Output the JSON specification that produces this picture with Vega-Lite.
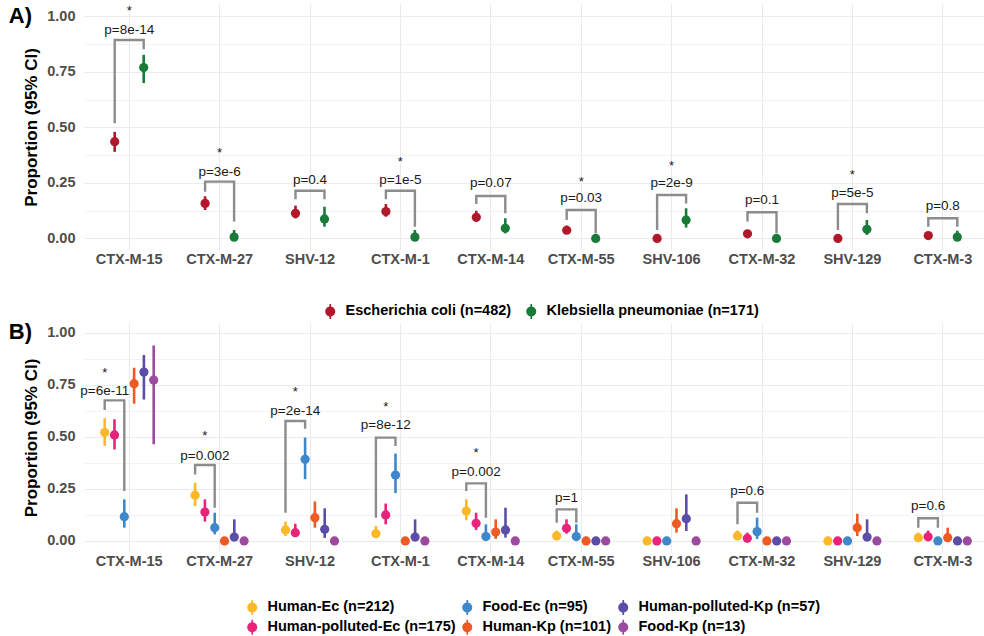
{
  "$schema": "https://vega.github.io/schema/vega-lite/v6.json",
  "background": "white",
  "padding": {"left": 8, "top": 4, "right": 0, "bottom": 0},
  "spacing": 2,
  "config": {
    "view": {"stroke": null},
    "font": "Liberation Sans",
    "axis": {
      "domain": false,
      "ticks": false,
      "gridColor": "#ebebeb",
      "labelFont": "Liberation Sans",
      "labelFontSize": 14.5,
      "labelFontWeight": "bold",
      "labelColor": "#4d4d4d",
      "titleFont": "Liberation Sans",
      "titleFontSize": 17,
      "titleFontWeight": "bold",
      "titleColor": "#000000"
    },
    "legend": {
      "title": null,
      "orient": "none",
      "symbolType": "M-1,0A1,1,0,1,1,1,0A1,1,0,1,1,-1,0Z M-0.17,-1.5H0.17V1.5H-0.17Z",
      "symbolSize": 100,
      "symbolStrokeWidth": 0,
      "symbolOpacity": 1,
      "labelFont": "Liberation Sans",
      "labelFontSize": 14.5,
      "labelFontWeight": "bold",
      "labelColor": "#000000",
      "labelLimit": 0,
      "labelOffset": 8,
      "rowPadding": 4
    },
    "text": {"font": "Liberation Sans", "fontSize": 13.5, "color": "#1a1a1a"},
    "title": {"font": "Liberation Sans", "fontSize": 22, "fontWeight": "bold", "color": "#000000", "anchor": "start", "frame": "bounds"}
  },
  "resolve": {"scale": {"color": "independent", "x": "independent", "xOffset": "independent", "y": "independent"}, "legend": {"color": "independent"}},
  "datasets": {
    "propA": [
      {"gene": "CTX-M-15", "group": "Escherichia coli (n=482)", "p": 0.436, "lo": 0.39, "hi": 0.48},
      {"gene": "CTX-M-15", "group": "Klebsiella pneumoniae (n=171)", "p": 0.77, "lo": 0.70, "hi": 0.827},
      {"gene": "CTX-M-27", "group": "Escherichia coli (n=482)", "p": 0.158, "lo": 0.128, "hi": 0.19},
      {"gene": "CTX-M-27", "group": "Klebsiella pneumoniae (n=171)", "p": 0.006, "lo": 0.0, "hi": 0.038},
      {"gene": "SHV-12", "group": "Escherichia coli (n=482)", "p": 0.113, "lo": 0.09, "hi": 0.148},
      {"gene": "SHV-12", "group": "Klebsiella pneumoniae (n=171)", "p": 0.088, "lo": 0.053, "hi": 0.143},
      {"gene": "CTX-M-1", "group": "Escherichia coli (n=482)", "p": 0.121, "lo": 0.098, "hi": 0.155},
      {"gene": "CTX-M-1", "group": "Klebsiella pneumoniae (n=171)", "p": 0.006, "lo": 0.0, "hi": 0.038},
      {"gene": "CTX-M-14", "group": "Escherichia coli (n=482)", "p": 0.095, "lo": 0.076, "hi": 0.125},
      {"gene": "CTX-M-14", "group": "Klebsiella pneumoniae (n=171)", "p": 0.046, "lo": 0.023, "hi": 0.091},
      {"gene": "CTX-M-55", "group": "Escherichia coli (n=482)", "p": 0.037, "lo": 0.025, "hi": 0.058},
      {"gene": "CTX-M-55", "group": "Klebsiella pneumoniae (n=171)", "p": 0.0, "lo": 0.0, "hi": 0.02},
      {"gene": "SHV-106", "group": "Escherichia coli (n=482)", "p": 0.0, "lo": 0.0, "hi": 0.008},
      {"gene": "SHV-106", "group": "Klebsiella pneumoniae (n=171)", "p": 0.083, "lo": 0.049, "hi": 0.136},
      {"gene": "CTX-M-32", "group": "Escherichia coli (n=482)", "p": 0.021, "lo": 0.011, "hi": 0.035},
      {"gene": "CTX-M-32", "group": "Klebsiella pneumoniae (n=171)", "p": 0.0, "lo": 0.0, "hi": 0.02},
      {"gene": "SHV-129", "group": "Escherichia coli (n=482)", "p": 0.0, "lo": 0.0, "hi": 0.008},
      {"gene": "SHV-129", "group": "Klebsiella pneumoniae (n=171)", "p": 0.041, "lo": 0.016, "hi": 0.083},
      {"gene": "CTX-M-3", "group": "Escherichia coli (n=482)", "p": 0.013, "lo": 0.005, "hi": 0.027},
      {"gene": "CTX-M-3", "group": "Klebsiella pneumoniae (n=171)", "p": 0.006, "lo": 0.0, "hi": 0.035}
    ],
    "bracketA": [
      {"gene": "CTX-M-15", "group": "Escherichia coli (n=482)", "y": 0.519, "step": 1},
      {"gene": "CTX-M-15", "group": "Escherichia coli (n=482)", "y": 0.894, "step": 2},
      {"gene": "CTX-M-15", "group": "Klebsiella pneumoniae (n=171)", "y": 0.894, "step": 3},
      {"gene": "CTX-M-15", "group": "Klebsiella pneumoniae (n=171)", "y": 0.852, "step": 4},
      {"gene": "CTX-M-27", "group": "Escherichia coli (n=482)", "y": 0.21, "step": 1},
      {"gene": "CTX-M-27", "group": "Escherichia coli (n=482)", "y": 0.256, "step": 2},
      {"gene": "CTX-M-27", "group": "Klebsiella pneumoniae (n=171)", "y": 0.256, "step": 3},
      {"gene": "CTX-M-27", "group": "Klebsiella pneumoniae (n=171)", "y": 0.076, "step": 4},
      {"gene": "SHV-12", "group": "Escherichia coli (n=482)", "y": 0.177, "step": 1},
      {"gene": "SHV-12", "group": "Escherichia coli (n=482)", "y": 0.215, "step": 2},
      {"gene": "SHV-12", "group": "Klebsiella pneumoniae (n=171)", "y": 0.215, "step": 3},
      {"gene": "SHV-12", "group": "Klebsiella pneumoniae (n=171)", "y": 0.177, "step": 4},
      {"gene": "CTX-M-1", "group": "Escherichia coli (n=482)", "y": 0.177, "step": 1},
      {"gene": "CTX-M-1", "group": "Escherichia coli (n=482)", "y": 0.215, "step": 2},
      {"gene": "CTX-M-1", "group": "Klebsiella pneumoniae (n=171)", "y": 0.215, "step": 3},
      {"gene": "CTX-M-1", "group": "Klebsiella pneumoniae (n=171)", "y": 0.053, "step": 4},
      {"gene": "CTX-M-14", "group": "Escherichia coli (n=482)", "y": 0.155, "step": 1},
      {"gene": "CTX-M-14", "group": "Escherichia coli (n=482)", "y": 0.191, "step": 2},
      {"gene": "CTX-M-14", "group": "Klebsiella pneumoniae (n=171)", "y": 0.191, "step": 3},
      {"gene": "CTX-M-14", "group": "Klebsiella pneumoniae (n=171)", "y": 0.113, "step": 4},
      {"gene": "CTX-M-55", "group": "Escherichia coli (n=482)", "y": 0.083, "step": 1},
      {"gene": "CTX-M-55", "group": "Escherichia coli (n=482)", "y": 0.128, "step": 2},
      {"gene": "CTX-M-55", "group": "Klebsiella pneumoniae (n=171)", "y": 0.128, "step": 3},
      {"gene": "CTX-M-55", "group": "Klebsiella pneumoniae (n=171)", "y": 0.023, "step": 4},
      {"gene": "SHV-106", "group": "Escherichia coli (n=482)", "y": 0.038, "step": 1},
      {"gene": "SHV-106", "group": "Escherichia coli (n=482)", "y": 0.196, "step": 2},
      {"gene": "SHV-106", "group": "Klebsiella pneumoniae (n=171)", "y": 0.196, "step": 3},
      {"gene": "SHV-106", "group": "Klebsiella pneumoniae (n=171)", "y": 0.158, "step": 4},
      {"gene": "CTX-M-32", "group": "Escherichia coli (n=482)", "y": 0.076, "step": 1},
      {"gene": "CTX-M-32", "group": "Escherichia coli (n=482)", "y": 0.118, "step": 2},
      {"gene": "CTX-M-32", "group": "Klebsiella pneumoniae (n=171)", "y": 0.118, "step": 3},
      {"gene": "CTX-M-32", "group": "Klebsiella pneumoniae (n=171)", "y": 0.023, "step": 4},
      {"gene": "SHV-129", "group": "Escherichia coli (n=482)", "y": 0.038, "step": 1},
      {"gene": "SHV-129", "group": "Escherichia coli (n=482)", "y": 0.155, "step": 2},
      {"gene": "SHV-129", "group": "Klebsiella pneumoniae (n=171)", "y": 0.155, "step": 3},
      {"gene": "SHV-129", "group": "Klebsiella pneumoniae (n=171)", "y": 0.113, "step": 4},
      {"gene": "CTX-M-3", "group": "Escherichia coli (n=482)", "y": 0.053, "step": 1},
      {"gene": "CTX-M-3", "group": "Escherichia coli (n=482)", "y": 0.091, "step": 2},
      {"gene": "CTX-M-3", "group": "Klebsiella pneumoniae (n=171)", "y": 0.091, "step": 3},
      {"gene": "CTX-M-3", "group": "Klebsiella pneumoniae (n=171)", "y": 0.053, "step": 4}
    ],
    "testA": [
      {"gene": "CTX-M-15", "label": "p=8e-14", "label_y": 0.94, "sig": true, "star_y": 1.04},
      {"gene": "CTX-M-27", "label": "p=3e-6", "label_y": 0.30, "sig": true, "star_y": 0.40},
      {"gene": "SHV-12", "label": "p=0.4", "label_y": 0.263, "sig": false, "star_y": 0},
      {"gene": "CTX-M-1", "label": "p=1e-5", "label_y": 0.263, "sig": true, "star_y": 0.36},
      {"gene": "CTX-M-14", "label": "p=0.07", "label_y": 0.25, "sig": false, "star_y": 0},
      {"gene": "CTX-M-55", "label": "p=0.03", "label_y": 0.18, "sig": true, "star_y": 0.27},
      {"gene": "SHV-106", "label": "p=2e-9", "label_y": 0.249, "sig": true, "star_y": 0.34},
      {"gene": "CTX-M-32", "label": "p=0.1", "label_y": 0.173, "sig": false, "star_y": 0},
      {"gene": "SHV-129", "label": "p=5e-5", "label_y": 0.206, "sig": true, "star_y": 0.30},
      {"gene": "CTX-M-3", "label": "p=0.8", "label_y": 0.146, "sig": false, "star_y": 0}
    ],
    "propB": [
      {"gene": "CTX-M-15", "group": "Human-Ec (n=212)", "p": 0.521, "lo": 0.457, "hi": 0.59},
      {"gene": "CTX-M-15", "group": "Human-polluted-Ec (n=175)", "p": 0.51, "lo": 0.44, "hi": 0.585},
      {"gene": "CTX-M-15", "group": "Food-Ec (n=95)", "p": 0.117, "lo": 0.064, "hi": 0.2},
      {"gene": "CTX-M-15", "group": "Human-Kp (n=101)", "p": 0.756, "lo": 0.66, "hi": 0.833},
      {"gene": "CTX-M-15", "group": "Human-polluted-Kp (n=57)", "p": 0.812, "lo": 0.68, "hi": 0.894},
      {"gene": "CTX-M-15", "group": "Food-Kp (n=13)", "p": 0.774, "lo": 0.465, "hi": 0.94},
      {"gene": "CTX-M-27", "group": "Human-Ec (n=212)", "p": 0.22, "lo": 0.168, "hi": 0.28},
      {"gene": "CTX-M-27", "group": "Human-polluted-Ec (n=175)", "p": 0.139, "lo": 0.093, "hi": 0.2},
      {"gene": "CTX-M-27", "group": "Food-Ec (n=95)", "p": 0.064, "lo": 0.032, "hi": 0.136},
      {"gene": "CTX-M-27", "group": "Human-Kp (n=101)", "p": 0.0, "lo": 0.0, "hi": 0.0},
      {"gene": "CTX-M-27", "group": "Human-polluted-Kp (n=57)", "p": 0.019, "lo": 0.0, "hi": 0.104},
      {"gene": "CTX-M-27", "group": "Food-Kp (n=13)", "p": 0.0, "lo": 0.0, "hi": 0.0},
      {"gene": "SHV-12", "group": "Human-Ec (n=212)", "p": 0.053, "lo": 0.024, "hi": 0.093},
      {"gene": "SHV-12", "group": "Human-polluted-Ec (n=175)", "p": 0.04, "lo": 0.02, "hi": 0.083},
      {"gene": "SHV-12", "group": "Food-Ec (n=95)", "p": 0.393, "lo": 0.297, "hi": 0.497},
      {"gene": "SHV-12", "group": "Human-Kp (n=101)", "p": 0.112, "lo": 0.064, "hi": 0.19},
      {"gene": "SHV-12", "group": "Human-polluted-Kp (n=57)", "p": 0.056, "lo": 0.015, "hi": 0.157},
      {"gene": "SHV-12", "group": "Food-Kp (n=13)", "p": 0.0, "lo": 0.0, "hi": 0.0},
      {"gene": "CTX-M-1", "group": "Human-Ec (n=212)", "p": 0.035, "lo": 0.015, "hi": 0.072},
      {"gene": "CTX-M-1", "group": "Human-polluted-Ec (n=175)", "p": 0.125, "lo": 0.08, "hi": 0.18},
      {"gene": "CTX-M-1", "group": "Food-Ec (n=95)", "p": 0.317, "lo": 0.23, "hi": 0.42},
      {"gene": "CTX-M-1", "group": "Human-Kp (n=101)", "p": 0.0, "lo": 0.0, "hi": 0.0},
      {"gene": "CTX-M-1", "group": "Human-polluted-Kp (n=57)", "p": 0.019, "lo": 0.0, "hi": 0.104},
      {"gene": "CTX-M-1", "group": "Food-Kp (n=13)", "p": 0.0, "lo": 0.0, "hi": 0.0},
      {"gene": "CTX-M-14", "group": "Human-Ec (n=212)", "p": 0.144, "lo": 0.1, "hi": 0.2},
      {"gene": "CTX-M-14", "group": "Human-polluted-Ec (n=175)", "p": 0.085, "lo": 0.053, "hi": 0.136},
      {"gene": "CTX-M-14", "group": "Food-Ec (n=95)", "p": 0.021, "lo": 0.005, "hi": 0.08},
      {"gene": "CTX-M-14", "group": "Human-Kp (n=101)", "p": 0.043, "lo": 0.01, "hi": 0.104},
      {"gene": "CTX-M-14", "group": "Human-polluted-Kp (n=57)", "p": 0.053, "lo": 0.016, "hi": 0.16},
      {"gene": "CTX-M-14", "group": "Food-Kp (n=13)", "p": 0.0, "lo": 0.0, "hi": 0.0},
      {"gene": "CTX-M-55", "group": "Human-Ec (n=212)", "p": 0.024, "lo": 0.01, "hi": 0.05},
      {"gene": "CTX-M-55", "group": "Human-polluted-Ec (n=175)", "p": 0.061, "lo": 0.035, "hi": 0.104},
      {"gene": "CTX-M-55", "group": "Food-Ec (n=95)", "p": 0.021, "lo": 0.005, "hi": 0.08},
      {"gene": "CTX-M-55", "group": "Human-Kp (n=101)", "p": 0.0, "lo": 0.0, "hi": 0.0},
      {"gene": "CTX-M-55", "group": "Human-polluted-Kp (n=57)", "p": 0.0, "lo": 0.0, "hi": 0.0},
      {"gene": "CTX-M-55", "group": "Food-Kp (n=13)", "p": 0.0, "lo": 0.0, "hi": 0.0},
      {"gene": "SHV-106", "group": "Human-Ec (n=212)", "p": 0.0, "lo": 0.0, "hi": 0.0},
      {"gene": "SHV-106", "group": "Human-polluted-Ec (n=175)", "p": 0.0, "lo": 0.0, "hi": 0.0},
      {"gene": "SHV-106", "group": "Food-Ec (n=95)", "p": 0.0, "lo": 0.0, "hi": 0.0},
      {"gene": "SHV-106", "group": "Human-Kp (n=101)", "p": 0.083, "lo": 0.04, "hi": 0.157},
      {"gene": "SHV-106", "group": "Human-polluted-Kp (n=57)", "p": 0.107, "lo": 0.048, "hi": 0.224},
      {"gene": "SHV-106", "group": "Food-Kp (n=13)", "p": 0.0, "lo": 0.0, "hi": 0.0},
      {"gene": "CTX-M-32", "group": "Human-Ec (n=212)", "p": 0.024, "lo": 0.01, "hi": 0.05},
      {"gene": "CTX-M-32", "group": "Human-polluted-Ec (n=175)", "p": 0.013, "lo": 0.005, "hi": 0.04},
      {"gene": "CTX-M-32", "group": "Food-Ec (n=95)", "p": 0.045, "lo": 0.01, "hi": 0.112},
      {"gene": "CTX-M-32", "group": "Human-Kp (n=101)", "p": 0.0, "lo": 0.0, "hi": 0.0},
      {"gene": "CTX-M-32", "group": "Human-polluted-Kp (n=57)", "p": 0.0, "lo": 0.0, "hi": 0.0},
      {"gene": "CTX-M-32", "group": "Food-Kp (n=13)", "p": 0.0, "lo": 0.0, "hi": 0.0},
      {"gene": "SHV-129", "group": "Human-Ec (n=212)", "p": 0.0, "lo": 0.0, "hi": 0.0},
      {"gene": "SHV-129", "group": "Human-polluted-Ec (n=175)", "p": 0.0, "lo": 0.0, "hi": 0.0},
      {"gene": "SHV-129", "group": "Food-Ec (n=95)", "p": 0.0, "lo": 0.0, "hi": 0.0},
      {"gene": "SHV-129", "group": "Human-Kp (n=101)", "p": 0.064, "lo": 0.024, "hi": 0.131},
      {"gene": "SHV-129", "group": "Human-polluted-Kp (n=57)", "p": 0.019, "lo": 0.0, "hi": 0.104},
      {"gene": "SHV-129", "group": "Food-Kp (n=13)", "p": 0.0, "lo": 0.0, "hi": 0.0},
      {"gene": "CTX-M-3", "group": "Human-Ec (n=212)", "p": 0.016, "lo": 0.005, "hi": 0.04},
      {"gene": "CTX-M-3", "group": "Human-polluted-Ec (n=175)", "p": 0.02, "lo": 0.005, "hi": 0.05},
      {"gene": "CTX-M-3", "group": "Food-Ec (n=95)", "p": 0.0, "lo": 0.0, "hi": 0.0},
      {"gene": "CTX-M-3", "group": "Human-Kp (n=101)", "p": 0.016, "lo": 0.003, "hi": 0.064},
      {"gene": "CTX-M-3", "group": "Human-polluted-Kp (n=57)", "p": 0.0, "lo": 0.0, "hi": 0.0},
      {"gene": "CTX-M-3", "group": "Food-Kp (n=13)", "p": 0.0, "lo": 0.0, "hi": 0.0}
    ],
    "bracketB": [
      {"gene": "CTX-M-15", "group": "Human-Ec (n=212)", "y": 0.63, "step": 1},
      {"gene": "CTX-M-15", "group": "Human-Ec (n=212)", "y": 0.676, "step": 2},
      {"gene": "CTX-M-15", "group": "Food-Ec (n=95)", "y": 0.676, "step": 3},
      {"gene": "CTX-M-15", "group": "Food-Ec (n=95)", "y": 0.24, "step": 4},
      {"gene": "CTX-M-27", "group": "Human-Ec (n=212)", "y": 0.32, "step": 1},
      {"gene": "CTX-M-27", "group": "Human-Ec (n=212)", "y": 0.365, "step": 2},
      {"gene": "CTX-M-27", "group": "Food-Ec (n=95)", "y": 0.365, "step": 3},
      {"gene": "CTX-M-27", "group": "Food-Ec (n=95)", "y": 0.16, "step": 4},
      {"gene": "SHV-12", "group": "Human-Ec (n=212)", "y": 0.136, "step": 1},
      {"gene": "SHV-12", "group": "Human-Ec (n=212)", "y": 0.577, "step": 2},
      {"gene": "SHV-12", "group": "Food-Ec (n=95)", "y": 0.577, "step": 3},
      {"gene": "SHV-12", "group": "Food-Ec (n=95)", "y": 0.54, "step": 4},
      {"gene": "CTX-M-1", "group": "Human-Ec (n=212)", "y": 0.112, "step": 1},
      {"gene": "CTX-M-1", "group": "Human-Ec (n=212)", "y": 0.497, "step": 2},
      {"gene": "CTX-M-1", "group": "Food-Ec (n=95)", "y": 0.497, "step": 3},
      {"gene": "CTX-M-1", "group": "Food-Ec (n=95)", "y": 0.457, "step": 4},
      {"gene": "CTX-M-14", "group": "Human-Ec (n=212)", "y": 0.24, "step": 1},
      {"gene": "CTX-M-14", "group": "Human-Ec (n=212)", "y": 0.277, "step": 2},
      {"gene": "CTX-M-14", "group": "Food-Ec (n=95)", "y": 0.277, "step": 3},
      {"gene": "CTX-M-14", "group": "Food-Ec (n=95)", "y": 0.112, "step": 4},
      {"gene": "CTX-M-55", "group": "Human-Ec (n=212)", "y": 0.088, "step": 1},
      {"gene": "CTX-M-55", "group": "Human-Ec (n=212)", "y": 0.152, "step": 2},
      {"gene": "CTX-M-55", "group": "Food-Ec (n=95)", "y": 0.152, "step": 3},
      {"gene": "CTX-M-55", "group": "Food-Ec (n=95)", "y": 0.088, "step": 4},
      {"gene": "CTX-M-32", "group": "Human-Ec (n=212)", "y": 0.08, "step": 1},
      {"gene": "CTX-M-32", "group": "Human-Ec (n=212)", "y": 0.184, "step": 2},
      {"gene": "CTX-M-32", "group": "Food-Ec (n=95)", "y": 0.184, "step": 3},
      {"gene": "CTX-M-32", "group": "Food-Ec (n=95)", "y": 0.136, "step": 4},
      {"gene": "CTX-M-3", "group": "Human-Ec (n=212)", "y": 0.064, "step": 1},
      {"gene": "CTX-M-3", "group": "Human-Ec (n=212)", "y": 0.109, "step": 2},
      {"gene": "CTX-M-3", "group": "Food-Ec (n=95)", "y": 0.109, "step": 3},
      {"gene": "CTX-M-3", "group": "Food-Ec (n=95)", "y": 0.064, "step": 4}
    ],
    "testB": [
      {"gene": "CTX-M-15", "mid": "Human-Ec (n=212)", "label": "p=6e-11", "label_y": 0.72, "sig": true, "star_y": 0.82},
      {"gene": "CTX-M-27", "mid": "Human-polluted-Ec (n=175)", "label": "p=0.002", "label_y": 0.41, "sig": true, "star_y": 0.52},
      {"gene": "SHV-12", "mid": "Human-polluted-Ec (n=175)", "label": "p=2e-14", "label_y": 0.625, "sig": true, "star_y": 0.73},
      {"gene": "CTX-M-1", "mid": "Human-polluted-Ec (n=175)", "label": "p=8e-12", "label_y": 0.56, "sig": true, "star_y": 0.66},
      {"gene": "CTX-M-14", "mid": "Human-polluted-Ec (n=175)", "label": "p=0.002", "label_y": 0.333, "sig": true, "star_y": 0.436},
      {"gene": "CTX-M-55", "mid": "Human-polluted-Ec (n=175)", "label": "p=1", "label_y": 0.208, "sig": false, "star_y": 0},
      {"gene": "CTX-M-32", "mid": "Human-polluted-Ec (n=175)", "label": "p=0.6", "label_y": 0.24, "sig": false, "star_y": 0},
      {"gene": "CTX-M-3", "mid": "Human-polluted-Ec (n=175)", "label": "p=0.6", "label_y": 0.168, "sig": false, "star_y": 0}
    ]
  },
  "vconcat": [
    {
      "width": 905,
      "height": 246,
      "title": {"text": "A)", "offset": -24, "dx": -14},
      "encoding": {
        "x": {
          "field": "gene", "type": "nominal",
          "sort": ["CTX-M-15", "CTX-M-27", "SHV-12", "CTX-M-1", "CTX-M-14", "CTX-M-55", "SHV-106", "CTX-M-32", "SHV-129", "CTX-M-3"],
          "scale": {"range": [5, 909], "paddingInner": 0, "paddingOuter": 0},
          "axis": {"title": null, "labelAngle": 0, "bandPosition": 0.5, "grid": true, "gridWidth": 1.1, "labelPadding": 2}
        },
        "y": {
          "type": "quantitative",
          "scale": {"domain": [-0.052, 1.056], "nice": false, "zero": false},
          "axis": {
            "title": "Proportion (95% CI)",
            "values": [0, 0.125, 0.25, 0.375, 0.5, 0.625, 0.75, 0.875, 1],
            "labelExpr": "round(datum.value * 8) % 2 == 0 ? format(datum.value, '.2f') : ''",
            "gridWidth": {"condition": {"test": "round(datum.value * 8) % 2 == 1", "value": 0.6}, "value": 1.1},
            "labelPadding": 4,
            "titlePadding": 6
          }
        }
      },
      "layer": [
        {
          "data": {"name": "bracketA"},
          "mark": {"type": "line", "color": "#8c8c8c", "strokeWidth": 2.4},
          "encoding": {
            "xOffset": {"field": "group", "type": "nominal", "scale": {"domain": ["Escherichia coli (n=482)", "Klebsiella pneumoniae (n=171)"], "range": [16.2, 74.2], "paddingInner": 0, "paddingOuter": 0}},
            "y": {"field": "y"},
            "detail": {"field": "gene"},
            "order": {"field": "step"}
          }
        },
        {
          "data": {"name": "propA"},
          "mark": {"type": "rule", "strokeWidth": 2.6},
          "encoding": {
            "xOffset": {"field": "group", "type": "nominal", "scale": {"domain": ["Escherichia coli (n=482)", "Klebsiella pneumoniae (n=171)"], "range": [16.2, 74.2], "paddingInner": 0, "paddingOuter": 0}},
            "y": {"field": "lo"},
            "y2": {"field": "hi"},
            "color": {"field": "group", "type": "nominal", "scale": {"domain": ["Escherichia coli (n=482)", "Klebsiella pneumoniae (n=171)"], "range": ["#b2182b", "#1a7a3a"]}, "legend": {"direction": "horizontal", "legendX": 244, "legendY": 300, "columnPadding": 12}}
          }
        },
        {
          "data": {"name": "propA"},
          "mark": {"type": "point", "filled": true, "size": 85, "opacity": 1},
          "encoding": {
            "xOffset": {"field": "group", "type": "nominal", "scale": {"domain": ["Escherichia coli (n=482)", "Klebsiella pneumoniae (n=171)"], "range": [16.2, 74.2], "paddingInner": 0, "paddingOuter": 0}},
            "y": {"field": "p"},
            "color": {"field": "group", "type": "nominal", "scale": {"domain": ["Escherichia coli (n=482)", "Klebsiella pneumoniae (n=171)"], "range": ["#b2182b", "#1a7a3a"]}, "legend": {"direction": "horizontal", "legendX": 244, "legendY": 300, "columnPadding": 12}}
          }
        },
        {
          "data": {"name": "testA"},
          "mark": {"type": "text", "baseline": "middle"},
          "encoding": {"y": {"field": "label_y"}, "text": {"field": "label"}}
        },
        {
          "data": {"name": "testA"},
          "transform": [{"filter": "datum.sig"}],
          "mark": {"type": "text", "baseline": "middle", "text": "*", "fontSize": 13, "dy": 3},
          "encoding": {"y": {"field": "star_y"}}
        }
      ]
    },
    {
      "width": 905,
      "height": 229,
      "title": {"text": "B)", "offset": -21, "dx": -14},
      "encoding": {
        "x": {
          "field": "gene", "type": "nominal",
          "sort": ["CTX-M-15", "CTX-M-27", "SHV-12", "CTX-M-1", "CTX-M-14", "CTX-M-55", "SHV-106", "CTX-M-32", "SHV-129", "CTX-M-3"],
          "scale": {"range": [5, 909], "paddingInner": 0, "paddingOuter": 0},
          "axis": {"title": null, "labelAngle": 0, "bandPosition": 0.5, "grid": true, "gridWidth": 1.1, "labelPadding": 2}
        },
        "y": {
          "type": "quantitative",
          "scale": {"domain": [-0.053, 1.048], "nice": false, "zero": false},
          "axis": {
            "title": "Proportion (95% CI)",
            "values": [0, 0.125, 0.25, 0.375, 0.5, 0.625, 0.75, 0.875, 1],
            "labelExpr": "round(datum.value * 8) % 2 == 0 ? format(datum.value, '.2f') : ''",
            "gridWidth": {"condition": {"test": "round(datum.value * 8) % 2 == 1", "value": 0.6}, "value": 1.1},
            "labelPadding": 4,
            "titlePadding": 6
          }
        }
      },
      "layer": [
        {
          "data": {"name": "bracketB"},
          "mark": {"type": "line", "color": "#8c8c8c", "strokeWidth": 2.4},
          "encoding": {
            "xOffset": {"field": "group", "type": "nominal", "scale": {"domain": ["Human-Ec (n=212)", "Human-polluted-Ec (n=175)", "Food-Ec (n=95)", "Human-Kp (n=101)", "Human-polluted-Kp (n=57)", "Food-Kp (n=13)"], "range": [15.8, 74.6], "paddingInner": 0, "paddingOuter": 0}},
            "y": {"field": "y"},
            "detail": {"field": "gene"},
            "order": {"field": "step"}
          }
        },
        {
          "data": {"name": "propB"},
          "mark": {"type": "rule", "strokeWidth": 2.6},
          "encoding": {
            "xOffset": {"field": "group", "type": "nominal", "scale": {"domain": ["Human-Ec (n=212)", "Human-polluted-Ec (n=175)", "Food-Ec (n=95)", "Human-Kp (n=101)", "Human-polluted-Kp (n=57)", "Food-Kp (n=13)"], "range": [15.8, 74.6], "paddingInner": 0, "paddingOuter": 0}},
            "y": {"field": "lo"},
            "y2": {"field": "hi"},
            "color": {"field": "group", "type": "nominal", "scale": {"domain": ["Human-Ec (n=212)", "Food-Ec (n=95)", "Human-polluted-Kp (n=57)", "Human-polluted-Ec (n=175)", "Human-Kp (n=101)", "Food-Kp (n=13)"], "range": ["#fbb829", "#3e87cb", "#5b4da8", "#e9237a", "#ee5a24", "#9b4a9e"]}, "legend": {"direction": "horizontal", "columns": 3, "legendX": 166, "legendY": 277, "columnPadding": 4}}
          }
        },
        {
          "data": {"name": "propB"},
          "mark": {"type": "point", "filled": true, "size": 85, "opacity": 1},
          "encoding": {
            "xOffset": {"field": "group", "type": "nominal", "scale": {"domain": ["Human-Ec (n=212)", "Human-polluted-Ec (n=175)", "Food-Ec (n=95)", "Human-Kp (n=101)", "Human-polluted-Kp (n=57)", "Food-Kp (n=13)"], "range": [15.8, 74.6], "paddingInner": 0, "paddingOuter": 0}},
            "y": {"field": "p"},
            "color": {"field": "group", "type": "nominal", "scale": {"domain": ["Human-Ec (n=212)", "Food-Ec (n=95)", "Human-polluted-Kp (n=57)", "Human-polluted-Ec (n=175)", "Human-Kp (n=101)", "Food-Kp (n=13)"], "range": ["#fbb829", "#3e87cb", "#5b4da8", "#e9237a", "#ee5a24", "#9b4a9e"]}, "legend": {"direction": "horizontal", "columns": 3, "legendX": 166, "legendY": 277, "columnPadding": 4}}
          }
        },
        {
          "data": {"name": "testB"},
          "mark": {"type": "text", "baseline": "middle"},
          "encoding": {
            "xOffset": {"field": "mid", "type": "nominal", "scale": {"domain": ["Human-Ec (n=212)", "Human-polluted-Ec (n=175)", "Food-Ec (n=95)", "Human-Kp (n=101)", "Human-polluted-Kp (n=57)", "Food-Kp (n=13)"], "range": [15.8, 74.6], "paddingInner": 0, "paddingOuter": 0}},
            "y": {"field": "label_y"},
            "text": {"field": "label"}
          }
        },
        {
          "data": {"name": "testB"},
          "transform": [{"filter": "datum.sig"}],
          "mark": {"type": "text", "baseline": "middle", "text": "*", "fontSize": 13, "dy": 3},
          "encoding": {
            "xOffset": {"field": "mid", "type": "nominal", "scale": {"domain": ["Human-Ec (n=212)", "Human-polluted-Ec (n=175)", "Food-Ec (n=95)", "Human-Kp (n=101)", "Human-polluted-Kp (n=57)", "Food-Kp (n=13)"], "range": [15.8, 74.6], "paddingInner": 0, "paddingOuter": 0}},
            "y": {"field": "star_y"}
          }
        }
      ]
    }
  ]
}
